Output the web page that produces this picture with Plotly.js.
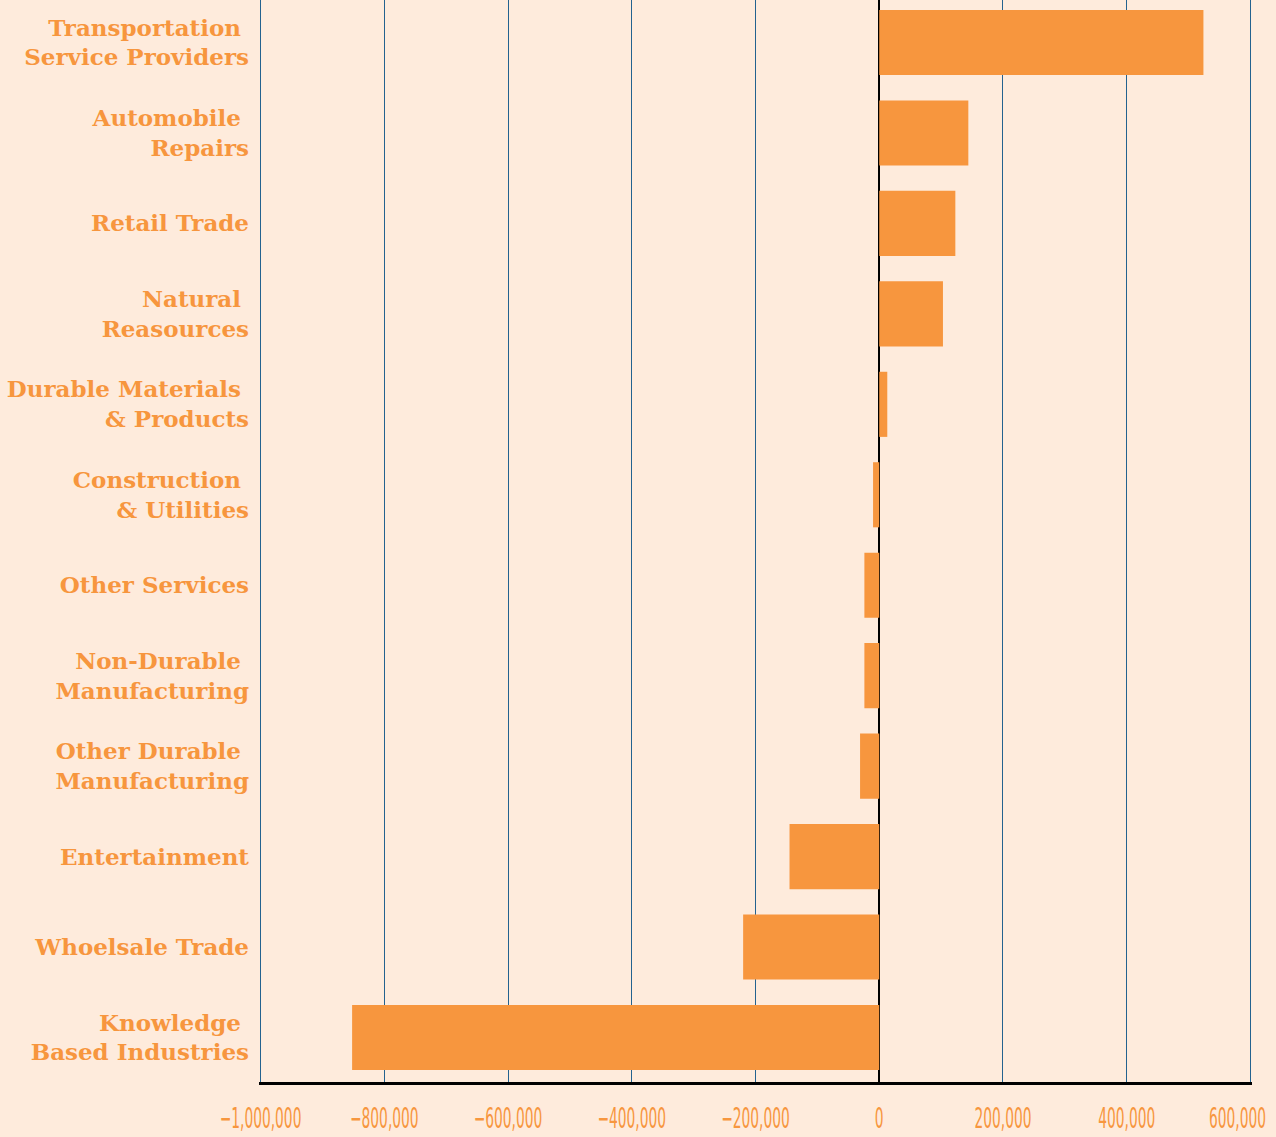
<!DOCTYPE html>
<html>
<head>
<meta charset="utf-8">
<script src="https://cdn.plot.ly/plotly-3.0.1.min.js"></script>
<style>html,body{margin:0;padding:0;background:#FEEBDC;}</style>
</head>
<body>
<div id="chart" style="width:1276px;height:1137px;"></div>
<script>
const categories = [
  "Transportation <br>Service Providers",
  "Automobile <br>Repairs",
  "Retail Trade",
  "Natural <br>Reasources",
  "Durable Materials <br>& Products",
  "Construction <br>& Utilities",
  "Other Services",
  "Non-Durable <br>Manufacturing",
  "Other Durable <br>Manufacturing",
  "Entertainment",
  "Whoelsale Trade",
  "Knowledge <br>Based Industries"
];
const values = [524000, 144000, 123000, 103000, 13000, -10000, -24000, -24000, -31000, -145000, -220000, -852000];
const tickValues = [-1000000, -800000, -600000, -400000, -200000, 0, 200000, 400000, 600000];

const orange = "#F7963E";
const trace = {
  type: "bar",
  orientation: "h",
  x: values,
  y: categories,
  marker: {color: orange, line: {width: 0}},
  hoverinfo: "x+y"
};

const layout = {
  width: 1276,
  height: 1137,
  paper_bgcolor: "#FEEBDC",
  plot_bgcolor: "#FEEBDC",
  margin: {l: 259, r: 24, t: 0, b: 55},
  bargap: 0.28,
  showlegend: false,
  xaxis: {
    range: [-1002500, 602500],
    tickvals: tickValues,
    tickformat: ",d",
    tickangle: 0,
    showgrid: true,
    gridcolor: "#23628F",
    gridwidth: 1,
    zeroline: true,
    zerolinecolor: "#000000",
    zerolinewidth: 2.5,
    showline: true,
    linecolor: "#000000",
    linewidth: 3,
    ticks: "",
    ticklabelstandoff: 9,
    ticklabeloverflow: "allow",
    tickfont: {family: "DejaVu Sans Condensed, Liberation Sans Narrow, sans-serif", size: 28, color: orange}
  },
  yaxis: {
    range: [11.492, -0.47],
    showgrid: false,
    zeroline: false,
    showline: false,
    ticks: "",
    ticklabelstandoff: 9,
    tickfont: {family: "DejaVu Serif", size: 23, color: orange, weight: "bold"}
  }
};

Plotly.newPlot("chart", [trace], layout, {staticPlot: true, displayModeBar: false}).then(function () {
  // squeeze the x tick labels to mimic the narrow condensed face of the original
  const texts = Array.from(document.querySelectorAll(".xtick text"));
  let k = 0.58;
  const ref = texts.find(t => t.textContent === "400,000");
  if (ref) { k = 57 / ref.getComputedTextLength(); }
  texts.forEach(t => {
    const len = t.getComputedTextLength();
    t.setAttribute("textLength", (len * k).toFixed(1));
    t.setAttribute("lengthAdjust", "spacingAndGlyphs");
  });
  // keep the last label inside the page, as in the original
  texts.forEach(t => {
    const r = t.getBoundingClientRect();
    if (r.right > 1266) { t.setAttribute("dx", (1266 - r.right).toFixed(1)); }
  });
});
</script>
</body>
</html>
